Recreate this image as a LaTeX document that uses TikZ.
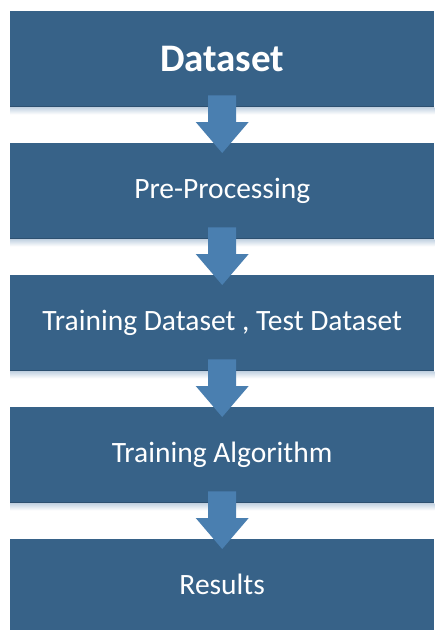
\documentclass[tikz,border=0pt]{standalone}
\usepackage{fontspec}
\setmainfont{Carlito}
\definecolor{boxblue}{RGB}{55,98,136}
\definecolor{boxedge}{RGB}{45,80,112}
\definecolor{arrowblue}{RGB}{74,127,176}
\definecolor{shadowblue}{RGB}{196,211,226}
\begin{document}
\begin{tikzpicture}[x=1pt,y=-1pt,
  stage/.style={fill=boxblue, draw=none, minimum width=424pt, minimum height=96pt,
    inner sep=0pt, anchor=north west, text=white, font=\fontsize{29.5}{34}\selectfont},
  downarrow/.style={fill=arrowblue, draw=none}]
\useasboundingbox (0,0) rectangle (435,630);
\fill[white] (0,0) rectangle (435,630);
% stage boxes
\node[stage, font=\bfseries\fontsize{39}{44}\selectfont] (s1) at (10,11) {Dataset};
\node[stage] (s2) at (10,143) {Pre-Processing};
\node[stage] (s3) at (10,275) {Training Dataset , Test Dataset};
\node[stage] (s4) at (10,407) {Training Algorithm};
\node[stage, minimum height=91pt] (s5) at (10,539) {Results};
% soft shadow fading out under each box
\foreach \s in {s1,s2,s3,s4}{
  \shade[top color=shadowblue, bottom color=white]
    (\s.south west) rectangle ([yshift=-7pt]\s.south east);
  \draw[boxedge, line width=1pt] ([yshift=0.5pt]\s.south west) -- ([yshift=0.5pt]\s.south east);
}
% block arrows between consecutive stages
\foreach \a/\b in {s1/s2,s2/s3,s3/s4,s4/s5}{
  \coordinate (top) at ([yshift=12pt]\a.south);
  \coordinate (tip) at ([yshift=-10pt]\b.north);
  \coordinate (sh) at ([yshift=21pt]\b.north);
  \fill[downarrow] ([xshift=-14pt]top) -- ([xshift=14pt]top)
    -- ([xshift=14pt]sh) -- ([xshift=26.5pt]sh) -- (tip)
    -- ([xshift=-26.5pt]sh) -- ([xshift=-14pt]sh) -- cycle;
}
\end{tikzpicture}
\end{document}
